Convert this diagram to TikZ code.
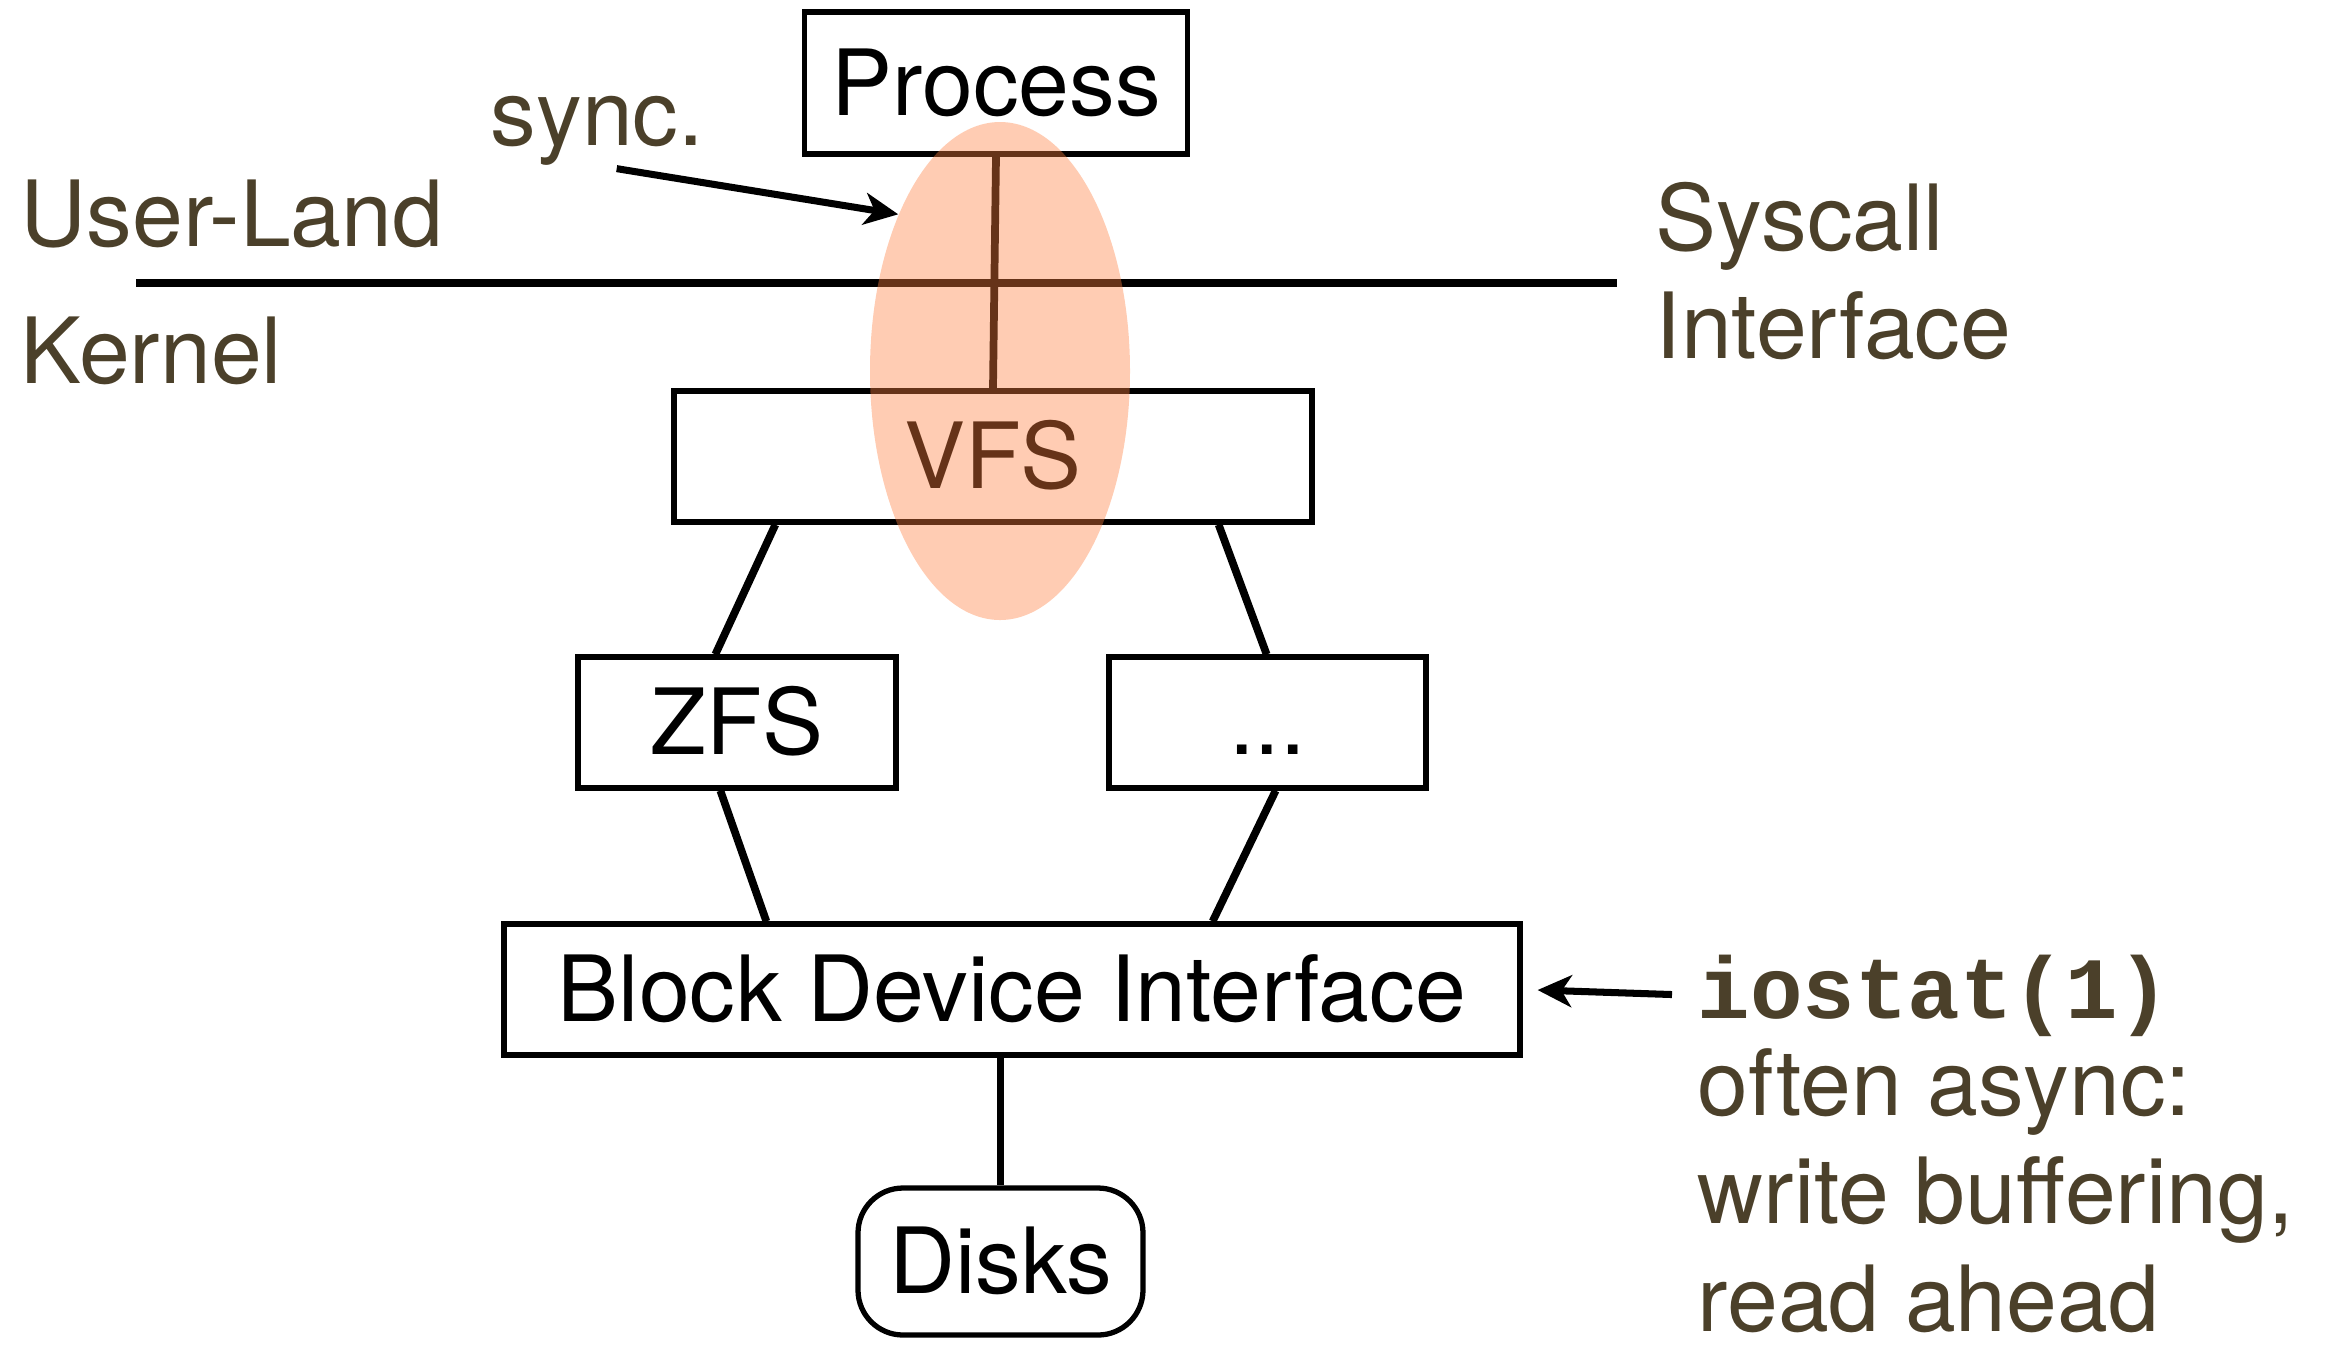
\documentclass[tikz,border=0pt]{standalone}
\usepackage{fontspec}
\setmainfont{TeX Gyre Heros}
\newfontfamily\codefont{Liberation Mono}
\usetikzlibrary{arrows.meta,shapes.geometric}
\definecolor{labelbrown}{RGB}{75,64,42}
\definecolor{synchilite}{RGB}{255,128,64}
\newcommand{\bigfont}{\fontsize{26pt}{30.7pt}\selectfont}
\tikzset{
  layer/.style={draw,line width=1.5pt,inner sep=0pt,minimum height=1.31cm,text height=0.646cm,text depth=0pt,font=\bigfont},
  note/.style={text=labelbrown,inner sep=0pt,font=\bigfont,align=left,anchor=base west},
  link/.style={line width=2.2pt},
  pointer/.style={line width=2pt,-{Stealth[length=0.34cm,width=0.32cm,inset=0.1cm]}}
}
\begin{document}
\begin{tikzpicture}
  \useasboundingbox (0,0) rectangle (23.37,-13.44);
  \node[layer,minimum width=3.83cm,minimum height=1.42cm] (process) at (9.96,-0.83) {Process};
  \node[layer,minimum width=6.38cm] (vfs) at (9.93,-4.565) {VFS};
  \node[layer,minimum width=3.18cm] (zfs) at (7.37,-7.225) {ZFS};
  \node[layer,minimum width=3.17cm] (otherfs) at (12.675,-7.225) {...};
  \node[layer,minimum width=10.16cm] (bdi) at (10.12,-9.895) {Block Device Interface};
  \node[layer,rounded corners=0.45cm,minimum width=2.85cm,minimum height=1.47cm] (disks) at (10.005,-12.615) {Disks};
  \node[note] (userland) at (0.20,-2.46) {User-Land}; \node[note] (kernel) at (0.20,-3.83) {Kernel};
  \node[note] (syscall) at (16.55,-3.58) {Syscall\\Interface}; \node[note] (sync) at (4.90,-1.45) {sync.};
  \node[note,font=\fontsize{24.9pt}{30pt}\selectfont\codefont\bfseries] (iostat) at (16.97,-10.18) {iostat(1)};
  \node[note] (asyncnote) at (16.97,-13.31) {often async:\\write buffering,\\read ahead};
  \draw[line width=2.1pt] (1.36,-2.83) -- (16.17,-2.83);
  \draw[link] (process.south) -- (vfs.north);
  \draw[link] ([xshift=1.04cm]vfs.south west) -- ([xshift=1.40cm]zfs.north west);
  \draw[link] ([xshift=-0.96cm]vfs.south east) -- ([xshift=-1.62cm]otherfs.north east);
  \draw[link] ([xshift=1.45cm]zfs.south west) -- ([xshift=2.65cm]bdi.north west);
  \draw[link] ([xshift=-1.53cm]otherfs.south east) -- ([xshift=-3.10cm]bdi.north east);
  \draw[link] (disks.north |- bdi.south) -- (disks.north);
  \node[ellipse,inner sep=0pt,minimum width=2.60cm,minimum height=4.98cm,fill=synchilite,fill opacity=0.4] (synczone) at (10.00,-3.71) {};
  \draw[pointer] ([xshift=-0.88cm,yshift=-0.03cm]sync.south east) -- (synczone.123);
  \draw[pointer,shorten <=0.25cm,shorten >=0.15cm] (iostat.west) -- (bdi.east);
\end{tikzpicture}
\end{document}
